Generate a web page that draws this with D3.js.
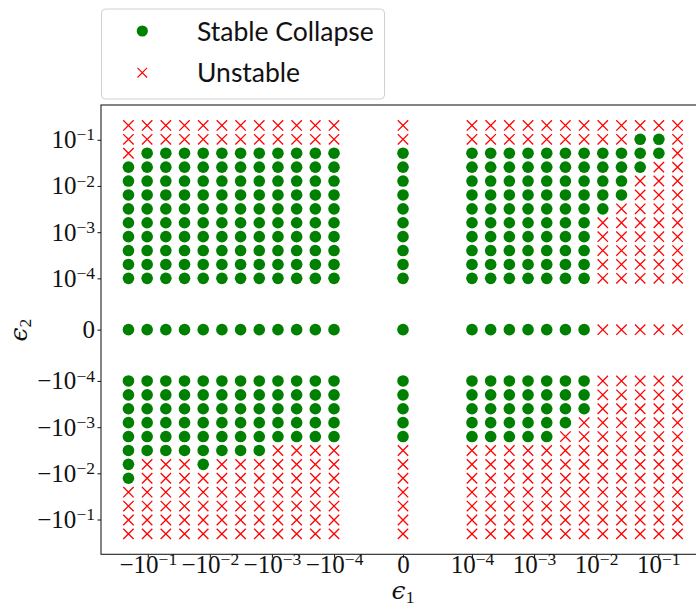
<!DOCTYPE html>
<html><head><meta charset="utf-8">
<script src="https://cdn.jsdelivr.net/npm/d3@7"></script>
<style>body{margin:0;background:#fff;overflow:hidden}</style>
</head><body>
<svg id="chart" width="696" height="608"></svg>
<script>
// ---- data ----
// eps1 (x) values, left to right
const eps1Values = [-2.048e-1, -1.024e-1, -5.12e-2, -2.56e-2, -1.28e-2, -6.4e-3, -3.2e-3, -1.6e-3, -8e-4, -4e-4, -2e-4, -1e-4,
  0,
  1e-4, 2e-4, 4e-4, 8e-4, 1.6e-3, 3.2e-3, 6.4e-3, 1.28e-2, 2.56e-2, 5.12e-2, 1.024e-1, 2.048e-1];
// eps2 (y) values, top to bottom
const eps2Values = [2.048e-1, 1.024e-1, 5.12e-2, 2.56e-2, 1.28e-2, 6.4e-3, 3.2e-3, 1.6e-3, 8e-4, 4e-4, 2e-4, 1e-4,
  0,
  -1e-4, -2e-4, -4e-4, -8e-4, -1.6e-3, -3.2e-3, -6.4e-3, -1.28e-2, -2.56e-2, -5.12e-2, -1.024e-1, -2.048e-1];
// outcome per cell: 'o' = Stable Collapse, 'x' = Unstable (row = eps2, column = eps1)
const outcomeRows = [
  "xxxxxxxxxxxx" + "x" + "xxxxxxxxxxxx",
  "xxxxxxxxxxxx" + "x" + "xxxxxxxxxoox",
  "xooooooooooo" + "o" + "ooooooooooox",
  "oooooooooooo" + "o" + "ooooooooooxx",
  "oooooooooooo" + "o" + "oooooooooxxx",
  "oooooooooooo" + "o" + "oooooooooxxx",
  "oooooooooooo" + "o" + "ooooooooxxxx",
  "oooooooooooo" + "o" + "oooooooxxxxx",
  "oooooooooooo" + "o" + "oooooooxxxxx",
  "oooooooooooo" + "o" + "oooooooxxxxx",
  "oooooooooooo" + "o" + "oooooooxxxxx",
  "oooooooooooo" + "o" + "oooooooxxxxx",
  "oooooooooooo" + "o" + "oooooooxxxxx",
  "oooooooooooo" + "o" + "oooooooxxxxx",
  "oooooooooooo" + "o" + "oooooooxxxxx",
  "oooooooooooo" + "o" + "oooooooxxxxx",
  "oooooooooooo" + "o" + "ooooooxxxxxx",
  "oooooooooooo" + "o" + "oooooxxxxxxx",
  "ooooooooxxxx" + "x" + "xxxxxxxxxxxx",
  "oxxxoxxxxxxx" + "x" + "xxxxxxxxxxxx",
  "oxxxxxxxxxxx" + "x" + "xxxxxxxxxxxx",
  "xxxxxxxxxxxx" + "x" + "xxxxxxxxxxxx",
  "xxxxxxxxxxxx" + "x" + "xxxxxxxxxxxx",
  "xxxxxxxxxxxx" + "x" + "xxxxxxxxxxxx",
  "xxxxxxxxxxxx" + "x" + "xxxxxxxxxxxx"
];
const tickValues = [-1e-1, -1e-2, -1e-3, -1e-4, 0, 1e-4, 1e-3, 1e-2, 1e-1];
const tickSigns = ["−", "−", "−", "−", "", "", "", "", ""];
const tickBases = ["10", "10", "10", "10", "0", "10", "10", "10", "10"];
const tickExponents = ["−1", "−2", "−3", "−4", "", "−4", "−3", "−2", "−1"];
const legendLabels = ["Stable Collapse", "Unstable"];
const xLabel = ["ϵ", "1"];
const yLabel = ["ϵ", "2"];
const linthresh = 1e-4;

// ---- scales (matplotlib-style symlog, linscale = 1) ----
const linscaleAdj = 1 / (1 - 1 / 10);
function symlog(v) {
  const a = Math.abs(v);
  if (a <= linthresh) return v / linthresh * linscaleAdj;
  return Math.sign(v) * (linscaleAdj + Math.log10(a / linthresh));
}
const pts = [];
eps2Values.forEach((e2, r) => eps1Values.forEach((e1, c) => pts.push({e1, e2, k: outcomeRows[r][c]})));

const xt = d3.extent(eps1Values.map(symlog)), yt = d3.extent(eps2Values.map(symlog));
const xm = (xt[1] - xt[0]) * 0.05, ym = (yt[1] - yt[0]) * 0.05;
const L = 101, R = 705, T = 105, B = 554.3;
const xLin = d3.scaleLinear().domain([xt[0] - xm, xt[1] + xm]).range([L, R]);
const yLin = d3.scaleLinear().domain([yt[0] - ym, yt[1] + ym]).range([B, T]);
const x = v => xLin(symlog(v)), y = v => yLin(symlog(v));

const svg = d3.select("#chart");
const green = "#008000", red = "#ff0000";
const tickFont = "'Liberation Serif', 'DejaVu Serif', serif";

// frame
svg.append("rect").attr("x", L).attr("y", T).attr("width", R - L).attr("height", B - T)
  .attr("fill", "none").attr("stroke", "#222").attr("stroke-width", 1.1);

// axes
const xAxis = svg.append("g").attr("transform", `translate(0,${B})`)
  .call(d3.axisBottom(xLin).tickValues(tickValues.map(symlog)).tickSize(3.5).tickSizeOuter(0).tickFormat(""));
const yAxis = svg.append("g").attr("transform", `translate(${L},0)`)
  .call(d3.axisLeft(yLin).tickValues(tickValues.map(symlog)).tickSize(3.5).tickSizeOuter(0).tickFormat(""));
[xAxis, yAxis].forEach(g => {
  g.select(".domain").remove();
  g.selectAll(".tick line").attr("stroke", "#222").attr("stroke-width", 1.1);
});

function addLabel(sel, i) {
  const t = sel.append("text").attr("font-family", tickFont).attr("font-size", 25).attr("fill", "#111");
  t.append("tspan").text(tickSigns[i] + tickBases[i]);
  if (tickExponents[i]) t.append("tspan").attr("dy", "-0.45em").attr("font-size", "70%").text(tickExponents[i]);
  return t;
}
xAxis.selectAll(".tick").each(function(d, i) {
  addLabel(d3.select(this), i).attr("text-anchor", "middle").attr("y", 19);
});
yAxis.selectAll(".tick").each(function(d, i) {
  addLabel(d3.select(this), i).attr("text-anchor", "end").attr("x", -6).attr("y", 8);
});

// axis titles
const xt2 = svg.append("text").attr("x", 403).attr("y", 599).attr("text-anchor", "middle")
  .attr("font-family", "'DejaVu Serif', serif").attr("font-size", 25).attr("fill", "#111");
xt2.append("tspan").attr("font-style", "italic").text(xLabel[0]);
xt2.append("tspan").attr("dy", "0.25em").attr("font-size", "70%").attr("font-family", tickFont).text(xLabel[1]);
const yt2 = svg.append("text").attr("transform", "translate(27,330) rotate(-90)").attr("text-anchor", "middle")
  .attr("font-family", "'DejaVu Serif', serif").attr("font-size", 25).attr("fill", "#111");
yt2.append("tspan").attr("font-style", "italic").text(yLabel[0]);
yt2.append("tspan").attr("dy", "0.25em").attr("font-size", "70%").attr("font-family", tickFont).text(yLabel[1]);

// markers
function drawX(g, cx, cy, h, sw) {
  g.append("path").attr("d", `M${cx - h},${cy - h}L${cx + h},${cy + h}M${cx - h},${cy + h}L${cx + h},${cy - h}`)
    .attr("stroke", red).attr("stroke-width", sw).attr("fill", "none");
}
const mg = svg.append("g");
mg.selectAll("circle").data(pts.filter(p => p.k === "o")).join("circle")
  .attr("cx", p => x(p.e1)).attr("cy", p => y(p.e2)).attr("r", 5.8).attr("fill", green);
pts.filter(p => p.k === "x").forEach(p => drawX(mg, x(p.e1), y(p.e2), 5.2, 1.3));

// legend
const lg = svg.append("g");
lg.append("rect").attr("x", 101.5).attr("y", 9).attr("width", 283).attr("height", 90).attr("rx", 4)
  .attr("fill", "#fff").attr("fill-opacity", 0.8).attr("stroke", "#d0d0d0").attr("stroke-width", 1);
lg.append("circle").attr("cx", 142.3).attr("cy", 31).attr("r", 5.6).attr("fill", green);
drawX(lg, 142.3, 72.7, 4.8, 1.1);
const legFont = "Lato, 'Open Sans', sans-serif";
legendLabels.forEach((s, i) => {
  lg.append("text").attr("x", 197).attr("y", 41 + i * 41).attr("font-family", legFont)
    .attr("font-size", 26.5).attr("fill", "#111").text(s);
});
</script>
</body></html>
